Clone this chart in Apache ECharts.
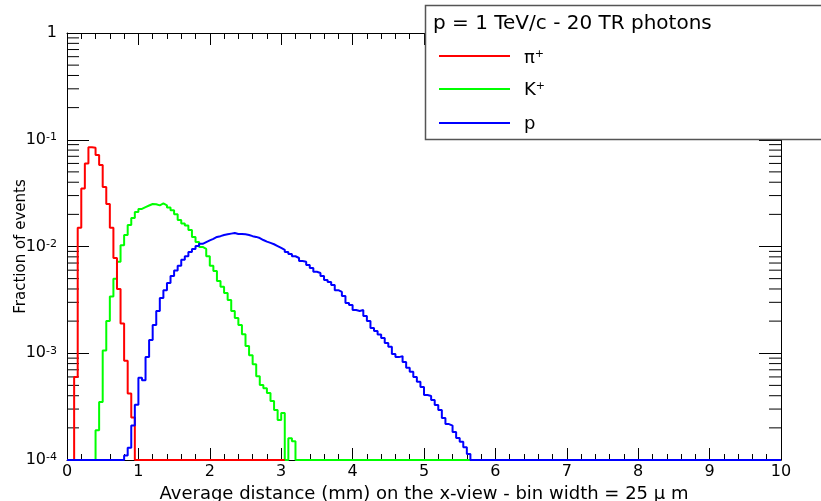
<!DOCTYPE html>
<html>
<head>
<meta charset="utf-8">
<script src="https://cdn.jsdelivr.net/npm/echarts@6/dist/echarts.min.js"></script>
<style>
  html, body { margin: 0; padding: 0; background: #fff; }
  #chart { width: 821px; height: 501px; }
</style>
</head>
<body>
<div id="chart"></div>
<script>
// ---------------- data ----------------
const BIN = 0.05;            // bin width used here (mm)
const FLOOR = 1e-4;          // empty bins are drawn on the bottom of the log axis

const xTicks = [0, 1, 2, 3, 4, 5, 6, 7, 8, 9, 10];
const yDecades = [1e-4, 1e-3, 1e-2, 1e-1, 1];

// pi+ : bins from 0.10 mm
const redStart = 0.10;
const redEmptyUntil = 3.05;
const redValues = [
  6e-4, 0.015, 0.035, 0.060, 0.085, 0.084, 0.072, 0.058, 0.036, 0.025,
  0.015, 0.0078, 0.0040, 0.0019, 8.5e-4, 4.2e-4, 2.5e-4
];

// K+ : bins from 0.40 mm
const greenStart = 0.40;
const greenEmptyUntil = 5.65;
const greenValues = [
  1.9e-4, 3.5e-4, 1.06e-3, 2.0e-3, 3.4e-3, 5.0e-3, 7.2e-3, 0.0103, 0.0128, 0.0159,
  0.0185, 0.0210, 0.0225, 0.0234, 0.0242, 0.0250, 0.0249, 0.0243, 0.0253, 0.0243,
  0.0232, 0.0219, 0.0201, 0.0177, 0.0164, 0.0157, 0.0143, 0.0123, 0.0110, 0.0099,
  0.0095, 0.0081, 0.0066, 0.0059, 0.00475, 0.0042, 0.00367, 0.00315, 0.00249, 0.00214,
  0.00184, 0.00151, 0.00117, 9.6e-4, 7.9e-4, 6.1e-4, 5.05e-4, 4.7e-4, 4.25e-4, 3.57e-4,
  2.94e-4, 2.37e-4, 2.75e-4, 0, 1.6e-4, 1.5e-4
];

// p : bins from 0.80 mm
const blueEmptyFrom = 0;
const blueStart = 0.80;
const blueEmptyUntil = 10;
const blueValues = [
  1.1e-4, 1.3e-4, 2.1e-4, 3.3e-4, 5.9e-4, 5.6e-4, 9.2e-4, 1.33e-3, 1.84e-3, 2.49e-3,
  3.3e-3, 3.9e-3, 4.55e-3, 5.3e-3, 5.96e-3, 6.6e-3, 7.5e-3, 8.1e-3, 8.9e-3, 9.5e-3,
  0.0101, 0.0106, 0.0110, 0.0114, 0.0118, 0.0123, 0.0125, 0.0128, 0.0130, 0.0132,
  0.0134, 0.0131, 0.0131, 0.0130, 0.0128, 0.0125, 0.0123, 0.0120, 0.0115, 0.0111,
  0.0108, 0.0105, 0.0101, 0.0097, 0.0093, 0.0089, 0.0085, 0.0081, 0.0078, 0.0073,
  0.0072, 0.0067, 0.0063, 0.0058, 0.00565, 0.0053, 0.00486, 0.00465, 0.00436, 0.0039,
  0.00375, 0.00344, 0.00296, 0.00283, 0.00254, 0.00249, 0.00254, 0.00223, 0.0020, 0.00172,
  0.00162, 0.0015, 0.00139, 0.00125, 0.00115, 9.85e-4, 9.2e-4, 9.4e-4, 8.3e-4, 7.3e-4,
  6.7e-4, 6.0e-4, 5.4e-4, 4.83e-4, 4.06e-4, 3.97e-4, 3.65e-4, 3.27e-4, 2.94e-4, 2.47e-4,
  2.17e-4, 2.1e-4, 1.83e-4, 1.61e-4, 1.48e-4, 1.32e-4, 1.14e-4
];

const seriesNames = ['π+', 'K+', 'p'];
const legendTitle = 'p = 1 TeV/c - 20 TR photons';
const xTitle = 'Average distance (mm) on the x-view - bin width = 25 μ m';
const yTitle = 'Fraction of events';

// ---------------- build step points ----------------
function r3(v) { return Math.round(v * 1000) / 1000; }
function histPoints(start, values, emptyFrom, emptyUntil) {
  const pts = [[emptyFrom, FLOOR]];
  values.forEach((v, i) => pts.push([r3(start + i * BIN), v > 0 ? v : FLOOR]));
  pts.push([r3(start + values.length * BIN), FLOOR]);
  pts.push([emptyUntil, FLOOR]);
  return pts;
}

// minor tick values of the log axis (2..9 x each decade)
const minorLog = [];
for (let d = 0; d < yDecades.length - 1; d++) {
  for (let m = 2; m <= 9; m++) minorLog.push([0, m * yDecades[d]]);
}

const FONT = '"DejaVu Sans", Verdana, sans-serif';
const RED = '#ff0000', GREEN = '#00ff00', BLUE = '#0000ff';

const chart = echarts.init(document.getElementById('chart'), null, { renderer: 'canvas' });

function yLabel(v) {
  const e = Math.round(Math.log10(v));
  if (e === 0) return '{b|1}';
  return '{b|10}{s|' + e + '}';
}

const stepSeries = (name, color, data, z) => ({
  type: 'line', name, data, step: 'end', showSymbol: false, symbol: 'none',
  lineStyle: { color, width: 2 }, itemStyle: { color }, clip: false, z,
  animation: false
});

const supRich = {
  b: { fontFamily: FONT, fontSize: 18, fill: '#000', color: '#000' },
  s: { fontFamily: FONT, fontSize: 11, fill: '#000', color: '#000', verticalAlign: 'top' }
};

const option = {
  backgroundColor: '#fff',
  animation: false,
  grid: { left: 67, right: 40, top: 33, bottom: 41, containLabel: false, outerBoundsMode: 'none' },
  xAxis: [
    {
      type: 'value', min: 0, max: 10, interval: 1, position: 'bottom',
      name: xTitle, nameLocation: 'middle', nameGap: 21,
      nameTextStyle: { fontFamily: FONT, fontSize: 18, color: '#000' },
      axisLine: { show: true, onZero: false, lineStyle: { color: '#000', width: 1 } },
      axisTick: { show: true, inside: true, length: 12, lineStyle: { color: '#000' } },
      minorTick: { show: true, splitNumber: 5, length: 6, lineStyle: { color: '#000' } },
      axisLabel: { fontFamily: FONT, fontSize: 16, color: '#000', margin: 4,
                   formatter: v => xTicks.includes(v) ? String(v) : '' },
      splitLine: { show: false }
    },
    {
      type: 'value', min: 0, max: 10, interval: 1, position: 'top',
      axisLine: { show: true, onZero: false, lineStyle: { color: '#000', width: 1 } },
      axisTick: { show: true, inside: true, length: 12, lineStyle: { color: '#000' } },
      minorTick: { show: true, splitNumber: 5, length: 6, lineStyle: { color: '#000' } },
      axisLabel: { show: false },
      splitLine: { show: false }
    }
  ],
  yAxis: [
    {
      type: 'log', logBase: 10, min: 1e-4, max: 1, position: 'left',
      name: yTitle, nameLocation: 'middle', nameGap: 38, nameRotate: 90,
      nameMoveOverlap: false,
      nameTextStyle: { fontFamily: FONT, fontSize: 15, color: '#000' },
      axisLine: { show: true, onZero: false, lineStyle: { color: '#000', width: 1 } },
      axisTick: { show: true, inside: true, length: 22, lineStyle: { color: '#000' } },
      axisLabel: {
        margin: 10, formatter: yLabel,
        rich: {
          b: { fontFamily: FONT, fontSize: 16, color: '#000' },
          s: { fontFamily: FONT, fontSize: 11, color: '#000', verticalAlign: 'top' }
        }
      },
      splitLine: { show: false }
    },
    {
      type: 'log', logBase: 10, min: 1e-4, max: 1, position: 'right',
      axisLine: { show: true, onZero: false, lineStyle: { color: '#000', width: 1 } },
      axisTick: { show: true, inside: true, length: 22, lineStyle: { color: '#000' } },
      axisLabel: { show: false },
      splitLine: { show: false }
    }
  ],
  series: [
    {
      type: 'custom', name: 'minorTicks', data: minorLog, silent: true, clip: false, z: 1,
      xAxisIndex: 0, yAxisIndex: 0,
      renderItem: (params, api) => {
        const v = api.value(1);
        const pL = api.coord([0, v]);
        const pR = api.coord([10, v]);
        return {
          type: 'group',
          children: [
            { type: 'line', shape: { x1: pL[0], y1: pL[1], x2: pL[0] + 12, y2: pL[1] },
              style: { stroke: '#000', lineWidth: 1 } },
            { type: 'line', shape: { x1: pR[0] - 12, y1: pR[1], x2: pR[0], y2: pR[1] },
              style: { stroke: '#000', lineWidth: 1 } }
          ]
        };
      }
    },
    stepSeries(seriesNames[1], GREEN, histPoints(greenStart, greenValues, greenStart, greenEmptyUntil), 3),
    stepSeries(seriesNames[0], RED, histPoints(redStart, redValues, redStart, redEmptyUntil), 4),
    stepSeries(seriesNames[2], BLUE, histPoints(blueStart, blueValues, blueEmptyFrom, blueEmptyUntil), 5)
  ],
  graphic: [
    {
      type: 'group', z: 100,
      children: [
        { type: 'rect', shape: { x: 425.5, y: 5.5, width: 420, height: 134 },
          style: { fill: '#fff', stroke: '#555', lineWidth: 1.5 }, z: 100 },
        { type: 'text', x: 433, y: 24, z: 101,
          style: { text: legendTitle, font: '20px ' + FONT, fill: '#000', verticalAlign: 'middle' } },
        { type: 'line', shape: { x1: 439, y1: 56, x2: 510, y2: 56 }, style: { stroke: RED, lineWidth: 2 }, z: 101 },
        { type: 'line', shape: { x1: 439, y1: 89, x2: 510, y2: 89 }, style: { stroke: GREEN, lineWidth: 2 }, z: 101 },
        { type: 'line', shape: { x1: 439, y1: 123, x2: 510, y2: 123 }, style: { stroke: BLUE, lineWidth: 2 }, z: 101 },
        { type: 'text', x: 524, y: 58, z: 101,
          style: { text: '{b|π}{s|+}', verticalAlign: 'middle', rich: supRich } },
        { type: 'text', x: 524, y: 90, z: 101,
          style: { text: '{b|K}{s|+}', verticalAlign: 'middle', rich: supRich } },
        { type: 'text', x: 524, y: 124, z: 101,
          style: { text: 'p', font: '18px ' + FONT, fill: '#000', verticalAlign: 'middle' } }
      ]
    }
  ]
};
chart.setOption(option);
</script>
</body>
</html>
